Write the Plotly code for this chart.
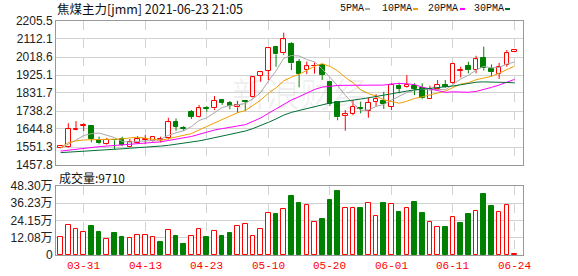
import plotly.graph_objects as go

# ---------------- data ----------------
dates = ["03-26","03-29","03-30","03-31","04-01","04-02","04-06","04-07","04-08","04-09",
         "04-12","04-13","04-14","04-15","04-16","04-19","04-20","04-21","04-22","04-23",
         "04-26","04-27","04-28","04-29","04-30","05-06","05-07","05-10","05-11","05-12",
         "05-13","05-14","05-17","05-18","05-19","05-20","05-21","05-24","05-25","05-26",
         "05-27","05-28","05-31","06-01","06-02","06-03","06-04","06-07","06-08","06-09",
         "06-10","06-11","06-15","06-16","06-17","06-18","06-21","06-22","06-23","06-24"]

opens = [1548,1553,1640,1662,1660,1588,1565,1590,1592,1553,
         1574,1589,1584,1590,1598,1683,1650,1735,1709,1753,
         1752,1795,1781,1757,1788,1809,1920,1946,2072,2038,
         2085,1991,1949,1970,1975,1888,1783,1712,1724,1752,
         1738,1787,1790,1761,1870,1861,1869,1856,1802,1852,
         1873,1882,1948,1973,1952,2015,1956,1932,1978,2044]
highs = [1560,1675,1686,1675,1663,1605,1598,1592,1605,1593,
         1608,1613,1608,1605,1703,1700,1660,1743,1769,1764,
         1816,1800,1790,1790,1790,1915,1940,2066,2074,2145,
         2095,2008,1995,1990,1978,1890,1786,1743,1795,1787,
         1809,1826,1838,1882,1885,1925,1882,1882,1870,1899,
         1899,1989,1968,1994,2025,2072,1980,1988,2055,2055]
lows = [1545,1548,1638,1634,1576,1565,1561,1541,1556,1551,
        1567,1565,1579,1575,1590,1636,1634,1697,1705,1735,
        1743,1770,1747,1729,1737,1805,1890,1899,1968,2030,
        1951,1861,1930,1932,1899,1764,1690,1636,1716,1726,
        1703,1764,1749,1743,1830,1858,1821,1799,1800,1847,
        1858,1878,1912,1934,1934,1948,1920,1905,1968,2043]
closes = [1556,1643,1646,1666,1592,1571,1588,1586,1562,1576,
          1591,1592,1603,1593,1680,1657,1647,1709,1752,1750,
          1790,1780,1764,1767,1785,1913,1939,2064,2032,2110,
          1986,1928,1970,1974,1925,1774,1705,1722,1760,1748,
          1781,1799,1773,1873,1853,1873,1853,1804,1850,1873,
          1862,1982,1952,1950,2006,1960,1942,1966,2038,2054]

# volume in 万 (10k lots)
volumes = [12.4,21.0,18.0,15.9,20.3,16.1,11.0,15.4,12.6,11.7,
           13.8,13.8,12.4,9.1,17.3,13.3,7.7,13.1,18.0,12.6,
           16.6,13.3,15.4,20.1,21.7,13.1,18.0,29.2,28.7,32.0,
           41.5,36.2,35.0,22.9,25.2,38.5,44.8,32.7,32.7,32.9,
           36.2,27.1,36.4,35.5,30.1,32.7,37.1,29.4,23.1,19.4,
           19.6,26.4,22.4,28.7,30.8,42.7,34.5,30.1,35.0,0.971]

ma5_head = [1546,1566,1587,1611]
ma10_head = [1548,1574,1583,1588,1589,1590,1590,1591,1593]
ma20_head = [1530,1535,1541,1546,1550,1553,1556,1559,1562,1565,
             1568,1571,1574,1578,1585,1591,1597,1606,1617]
ma30_head = [1522,1524,1527,1530,1533,1535,1537,1540,1542,1545,
             1547,1550,1553,1556,1560,1565,1570,1576,1583,1591,
             1600,1608,1617,1625,1634,1647,1662,1679,1697]

price_ticks = [1457.8,1551.3,1644.8,1738.2,1831.7,1925.1,2018.6,2112.1,2205.5]
vol_ticks = [0,12.075,24.15,36.225,48.30]
vol_tick_text = ["0","12.08万","24.15万","36.23万","48.30万"]
label_dates = ["03-31","04-13","04-23","05-10","05-20","06-01","06-11","06-24"]

title_text = "焦煤主力[jmm] 2021-06-23 21:05"
vol_label = "成交量:9710"

# ---------------- styles ----------------
RED = "#ff0000"
GREEN = "#008000"
MA_COLORS = {"5PMA": "#a8a8a8", "10PMA": "#f0a000", "20PMA": "#ff00ff", "30PMA": "#006f35"}
GRID = "#d3d3d3"
BORDER = "#999999"

n = len(dates)
xs = list(range(n))


def moving_avg(head, win):
    out = list(head)
    for i in range(len(head), n):
        out.append(sum(closes[i - win + 1:i + 1]) / win)
    return out

ma = {
    "5PMA": moving_avg(ma5_head, 5),
    "10PMA": moving_avg(ma10_head, 10),
    "20PMA": moving_avg(ma20_head, 20),
    "30PMA": moving_avg(ma30_head, 30),
}

fig = go.Figure()

# candle bodies
up = [c >= o for o, c in zip(opens, closes)]
base = [min(o, c) for o, c in zip(opens, closes)]
height = [max(abs(c - o), 1.5) for o, c in zip(opens, closes)]
fig.add_trace(go.Bar(
    x=xs, y=height, base=base, width=0.6,
    marker=dict(color=["#ffffff" if u else GREEN for u in up],
                line=dict(color=[RED if u else GREEN for u in up], width=1)),
    xaxis="x", yaxis="y", showlegend=False, hoverinfo="skip"))

# volume bars (colour by close vs previous close)
vup = [True] + [closes[i] >= closes[i - 1] for i in range(1, n)]
fig.add_trace(go.Bar(
    x=xs, y=volumes, width=0.6,
    marker=dict(color=["#ffffff" if u else GREEN for u in vup],
                line=dict(color=[RED if u else GREEN for u in vup], width=1)),
    xaxis="x2", yaxis="y2", showlegend=False, hoverinfo="skip"))

# wicks
for colr, flag in ((RED, True), (GREEN, False)):
    wx, wy = [], []
    for i in range(n):
        if up[i] != flag:
            continue
        top = max(opens[i], closes[i]); bot = min(opens[i], closes[i])
        if highs[i] > top:
            wx += [i, i, None]; wy += [top, highs[i], None]
        if lows[i] < bot:
            wx += [i, i, None]; wy += [lows[i], bot, None]
    fig.add_trace(go.Scatter(x=wx, y=wy, mode="lines", line=dict(color=colr, width=1),
                             xaxis="x", yaxis="y", showlegend=False, hoverinfo="skip"))

# moving averages
for name, vals in ma.items():
    fig.add_trace(go.Scatter(x=xs, y=vals, mode="lines",
                             line=dict(color=MA_COLORS[name], width=1),
                             xaxis="x", yaxis="y", showlegend=False, hoverinfo="skip"))

grid_idx = [dates.index(d) for d in label_dates]

common_x = dict(range=[-0.6, 60.1], tickvals=grid_idx, showgrid=True, gridcolor=GRID,
                griddash="dash", gridwidth=1, zeroline=False, showline=True, mirror=True,
                linecolor=BORDER, linewidth=1, ticks="", fixedrange=True, showticklabels=False)

fig.update_layout(
    width=578, height=276,
    margin=dict(l=56, r=55, t=21, b=21, pad=0),
    paper_bgcolor="white", plot_bgcolor="white",
    barmode="overlay", bargap=0,
    xaxis=dict(domain=[0, 1], anchor="y", **common_x),
    xaxis2=dict(domain=[0, 1], anchor="y2", matches="x", **common_x),
    yaxis=dict(domain=[0.3846, 1], range=[price_ticks[0], price_ticks[-1]],
               tickvals=price_ticks, ticktext=[f"{v:.1f}" for v in price_ticks],
               showgrid=True, gridcolor=GRID, zeroline=False, showline=True, mirror=True,
               linecolor=BORDER, ticks="",
               tickfont=dict(family="Liberation Sans", size=12, color="#222222")),
    yaxis2=dict(domain=[0, 0.2949], range=[0, 48.30], tickvals=vol_ticks, ticktext=vol_tick_text,
                showgrid=True, gridcolor=GRID, zeroline=False, showline=True, mirror=True,
                linecolor=BORDER, ticks="",
                tickfont=dict(family="Liberation Sans, Noto Sans CJK SC", size=12, color="#222222")),
)

PW = 578 - 56 - 55
PH = 276 - 21 - 21

def px(xp):
    return (xp - 56) / PW

def py(yp):
    return (255 - yp) / PH

annotations = [
    dict(text=title_text, x=px(55), y=py(9), xref="paper", yref="paper",
         xanchor="left", yanchor="middle", showarrow=False,
         font=dict(family="Noto Sans CJK SC", size=12.5, color="#111111")),
    dict(text=vol_label, x=px(57), y=py(177), xref="paper", yref="paper",
         xanchor="left", yanchor="middle", showarrow=False,
         font=dict(family="Noto Sans CJK SC", size=12, color="#111111")),
    dict(text="新浪财经", x=px(300), y=py(92), xref="paper", yref="paper",
         xanchor="center", yanchor="middle", showarrow=False,
         font=dict(family="Noto Sans CJK SC", size=34, color="rgba(0,0,0,0.06)")),
]
# date labels under the volume panel
for d, gi in zip(label_dates, grid_idx):
    annotations.append(dict(text=d, x=gi, y=py(266), xref="x2", yref="paper",
                            xanchor="center", yanchor="middle", showarrow=False,
                            font=dict(family="Liberation Mono", size=11, color=RED)))
shapes = []
legend_pos = [("5PMA", 338, 365), ("10PMA", 380, 413), ("20PMA", 426, 460), ("30PMA", 472, 505)]
for name, tx, sx in legend_pos:
    annotations.append(dict(text=name, x=px(tx), y=py(9), xref="paper", yref="paper",
                            xanchor="left", yanchor="middle", showarrow=False,
                            font=dict(family="Liberation Mono", size=10, color="#111111")))
    shapes.append(dict(type="rect", xref="paper", yref="paper",
                       x0=px(sx), x1=px(sx + 5), y0=py(10), y1=py(8),
                       fillcolor=MA_COLORS[name], line=dict(width=0)))

fig.update_layout(annotations=annotations, shapes=shapes)

fig.write_html("out.html")
